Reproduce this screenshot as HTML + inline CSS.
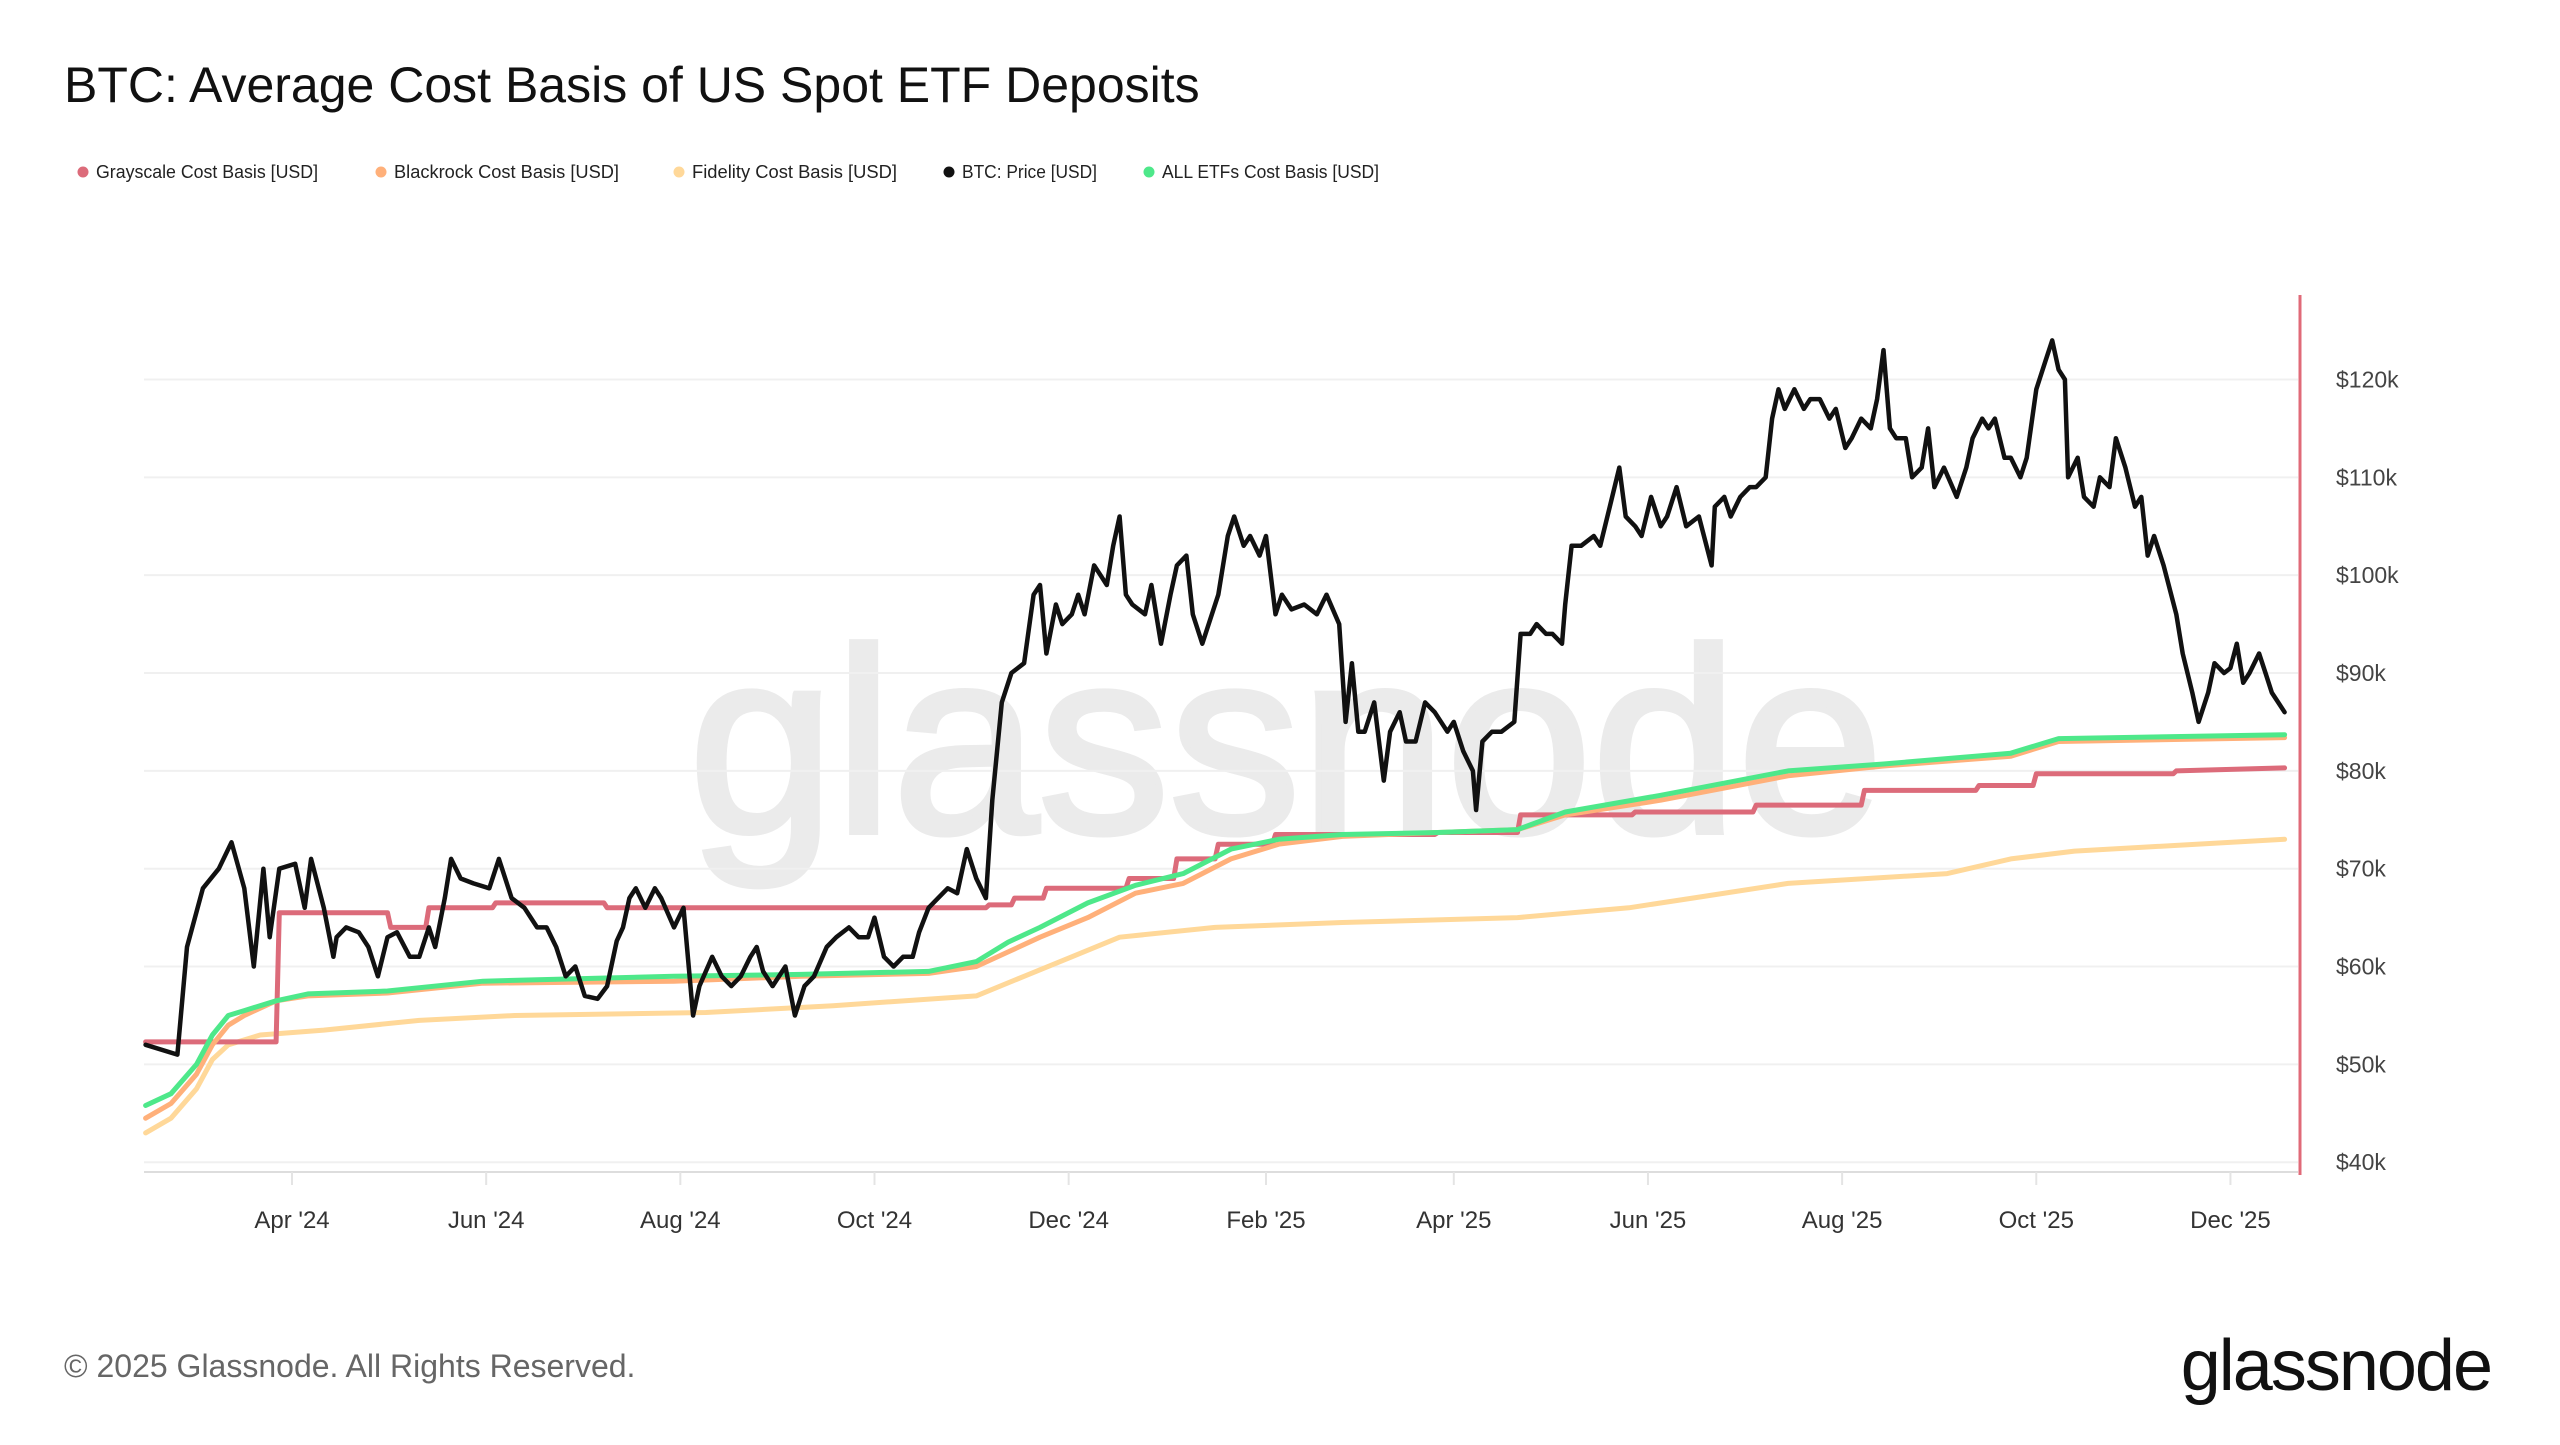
<!DOCTYPE html>
<html><head><meta charset="utf-8"><style>
body{margin:0;background:#fff;width:2560px;height:1440px;overflow:hidden;font-family:"Liberation Sans",sans-serif}
</style></head><body>
<svg width="2560" height="1440" viewBox="0 0 2560 1440" id="chart">
<text x="64" y="102" font-size="50" fill="#111">BTC: Average Cost Basis of US Spot ETF Deposits</text>
<g id="legend" font-size="18" fill="#222"></g>
<text x="1286" y="832" font-size="262" fill="#ebebeb" stroke="#ebebeb" stroke-width="6" text-anchor="middle">glassnode</text>
<g id="grid"></g>
<g id="series"></g>
<line x1="2300" y1="295" x2="2300" y2="1175" stroke="#e06a78" stroke-width="3"/>
<g id="yticks" font-size="23" fill="#444"></g>
<g id="xticks" font-size="24" fill="#333"></g>
<text x="64" y="1377" font-size="32" fill="#666">© 2025 Glassnode. All Rights Reserved.</text>
<text x="2491" y="1390" font-size="72" fill="#111" text-anchor="end" letter-spacing="-2">glassnode</text>
</svg>
<script>
// days relative to 2024-04-01
const priceDays=[-46,-36,-33,-28,-23,-19,-15,-12,-9,-7,-4,1,4,6,10,13,14,17,21,24,27,30,33,37,40,43,45,48,50,53,57,62,65,69,73,77,80,83,86,89,92,96,99,102,104,106,108,111,114,116,120,123,126,128,132,135,138,141,144,146,148,151,155,158,161,164,168,171,175,178,181,183,186,189,192,195,197,200,203,206,209,212,215,218,220,223,226,230,233,235,237,240,242,245,247,249,252,254,256,258,260,262,264,268,270,273,276,278,281,283,286,288,291,294,296,299,301,304,306,309,311,314,318,322,325,329,331,333,335,337,340,343,345,348,350,353,356,359,363,365,368,371,372,374,377,380,384,386,389,391,394,396,399,400,402,405,409,411,414,417,419,422,424,427,430,432,435,438,442,446,447,450,452,455,458,460,463,465,467,469,472,475,477,480,483,485,488,490,493,496,498,500,502,504,507,509,512,514,516,519,523,526,528,531,533,535,538,540,543,545,548,551,553,555,557,558,561,563,566,568,571,573,576,579,581,583,585,588,592,594,597,599,602,604,607,609,611,613,615,618,620,622,624,626];
const priceVals=[52,51,62,68,70,72.7,68,60,70,63,70,70.5,66,71,66,61,63,64,63.5,62,59,63,63.5,61,61,64,62,67,71,69,68.5,68,71,67,66,64,64,62,59,60,57,56.7,58,62.6,64,67,68,66,68,67,64,66,55,58,61,59,58,59,61,62,59.5,58,60,55,58,59,62,63,64,63,63,65,61,60,61,61,63.5,66,67,68,67.5,72,69,67,77,87,90,91,98,99,92,97,95,96,98,96,101,100,99,103,106,98,97,96,99,93,98,101,102,96,93,95,98,104,106,103,104,102,104,96,98,96.5,97,96,98,95,85,91,84,84,87,79,84,86,83,83,87,86,84,85,82,80,76,83,84,84,85,94,94,95,94,94,93,97,103,103,104,103,107,111,106,105,104,108,105,106,109,105,106,101,107,108,106,108,109,109,110,116,119,117,119,117,118,118,116,117,113,114,116,115,118,123,115,114,114,110,111,115,109,111,108,111,114,116,115,116,112,112,110,112,119,122,124,121,120,110,112,108,107,110,109,114,111,107,108,102,104,101,96,92,88,85,88,91,90,90.5,93,89,90,92,90,88,87,86];
const grayDays=[-46,-5,-4,30,31,42,43,63,64,98,99,218,219,226,227,236,237,262,263,277,278,290,291,308,309,359,360,385,386,421,422,459,460,493,494,529,530,547,548,591,592,626];
const grayVals=[52.3,52.3,65.5,65.5,64,64,66,66,66.5,66.5,66,66,66.3,66.3,67,67,68,68,69,69,71,71,72.5,72.5,73.5,73.5,73.7,73.7,75.5,75.5,75.8,75.8,76.5,76.5,78,78,78.5,78.5,79.7,79.7,80,80.3];
const cbDays=[-46,-38,-30,-25,-20,-15,-5,5,30,60,120,160,200,215,225,235,250,265,280,295,310,330,360,385,400,430,470,500,540,555,626];
const blackrockVals=[44.5,46,49,52,54,55,56.5,57,57.3,58.3,58.5,59,59.3,60,61.5,63,65,67.5,68.5,71,72.5,73.3,73.7,74,75.5,77,79.5,80.5,81.5,83,83.4];
const allEtfVals=[45.8,47,50,53,55,55.5,56.5,57.2,57.5,58.5,59,59.2,59.5,60.5,62.5,64,66.5,68.3,69.5,72,73,73.5,73.7,74,75.8,77.5,80,80.7,81.8,83.3,83.7];
const fidDays=[-46,-38,-30,-25,-20,-10,10,40,70,130,170,215,230,245,260,290,330,385,420,440,470,520,540,560,626];
const fidelityVals=[43,44.5,47.5,50.5,52,53,53.5,54.5,55,55.3,56,57,59,61,63,64,64.5,65,66,67,68.5,69.5,71,71.8,73];
const yTicks=[40,50,60,70,80,90,100,110,120];
const xTickDays=[0,61,122,183,244,306,365,426,487,548,609];
const xTickLabels=["Apr '24","Jun '24","Aug '24","Oct '24","Dec '24","Feb '25","Apr '25","Jun '25","Aug '25","Oct '25","Dec '25"];
const legendNames=["Grayscale Cost Basis [USD]","Blackrock Cost Basis [USD]","Fidelity Cost Basis [USD]","BTC: Price [USD]","ALL ETFs Cost Basis [USD]"];
const legendColors=["#dc6b7a","#ffb07a","#ffd899","#111111","#4ee88a"];

const NS="http://www.w3.org/2000/svg";
const X=d=>292+(d)*3.183;
const Y=v=>379.5+(120-v)*9.784;
function mk(t,a,p){const e=document.createElementNS(NS,t);for(const k in a)e.setAttribute(k,a[k]);p.appendChild(e);return e;}
const grid=document.getElementById('grid'),yt=document.getElementById('yticks'),xt=document.getElementById('xticks');
yTicks.forEach(v=>{
 const l=mk('line',{x1:144,x2:2298,y1:Y(v),y2:Y(v),stroke:'#f0f0f0','stroke-width':2},grid);
 
 
 const t=mk('text',{x:2336,y:Y(v)+8},yt);t.textContent='$'+v+'k';
 
 
});
const ax=mk('line',{x1:144,x2:2298,y1:1172,y2:1172,stroke:'#ddd','stroke-width':2},grid);


xTickDays.forEach((d,i)=>{
 const l=mk('line',{x1:X(d),x2:X(d),y1:1172,y2:1185,stroke:'#e4e4e4','stroke-width':2},xt);
 
 
 const t=mk('text',{x:X(d),y:1228,'text-anchor':'middle'},xt);t.textContent=xTickLabels[i];
 
 
});
const sg=document.getElementById('series');
function line(days,vals,color,w,name){
 const d=days.map((dd,i)=>(i?'L':'M')+X(dd).toFixed(1)+','+Y(vals[i]).toFixed(1)).join('');
 const p=mk('path',{d:d,fill:'none',stroke:color,'stroke-width':w,'stroke-linejoin':'round','stroke-linecap':'round'},sg);
 
 
}
line(fidDays,fidelityVals,'#ffd899',5,'fidelity-line');
line(grayDays,grayVals,'#dc6b7a',5,'grayscale-line');
line(cbDays,blackrockVals,'#ffb07a',5,'blackrock-line');
line(cbDays,allEtfVals,'#4ee88a',5,'all-etfs-line');
line(priceDays,priceVals,'#111111',4.5,'btc-price-line');
const lg=document.getElementById('legend');
let lx=78;
const widths=[298,298,270,200,240];
legendNames.forEach((n,i)=>{
 const c=mk('circle',{cx:lx+5,cy:172,r:5.5,fill:legendColors[i]},lg);
 
 
 const t=mk('text',{x:lx+18,y:178,textLength:[222,225,205,135,217][i],lengthAdjust:'spacingAndGlyphs'},lg);t.textContent=n;
 
 
 lx+=widths[i];
});
</script>
</body></html>
